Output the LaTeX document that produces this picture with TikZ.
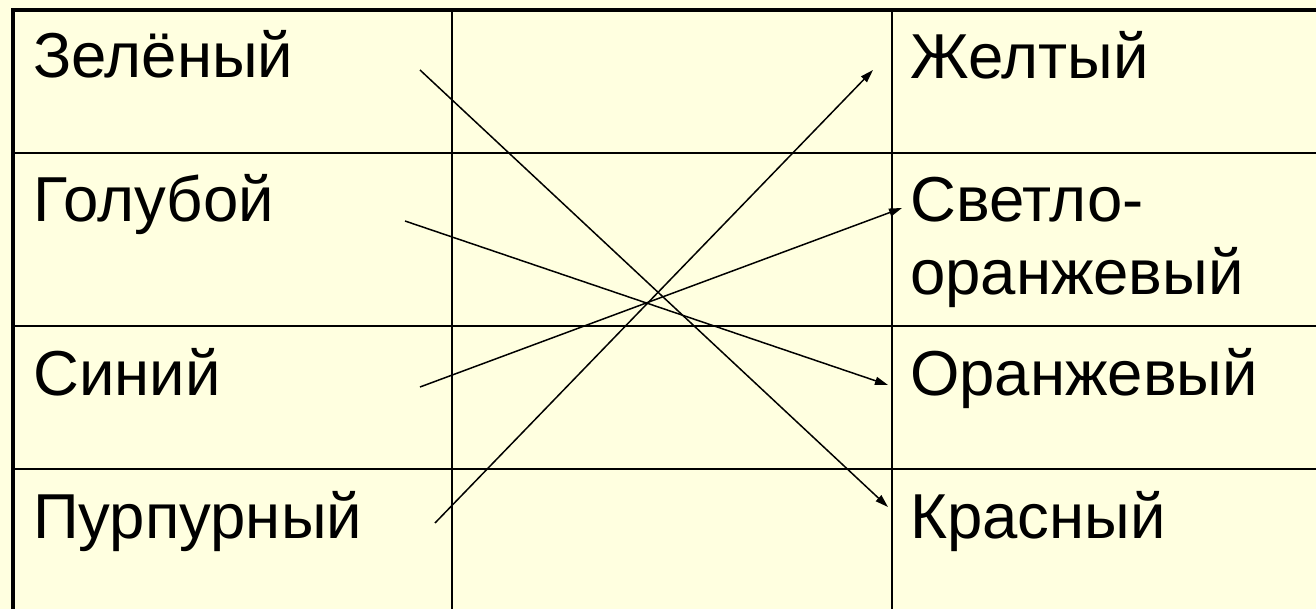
\documentclass[tikz,border=0pt]{standalone}
\usepackage{fontspec}
\setmainfont{Liberation Sans}
\usetikzlibrary{arrows.meta}
\definecolor{bg}{HTML}{FFFFE0}
\begin{document}
\begin{tikzpicture}[x=1pt,y=-1pt,
  cell/.style={anchor=base west,inner sep=0pt,font=\fontsize{63.5}{74}\selectfont},
  outer/.style={line width=4pt},
  inner/.style={line width=2.2pt},
  conn/.style={line width=1.5pt,-{Triangle[length=13pt,width=8pt]}}]
\fill[bg] (0,0) rectangle (1316,609);
\useasboundingbox (0,0) rectangle (1316,609);
% grid
\draw[inner] (12,153) -- (1330,153);
\draw[inner] (12,326) -- (1330,326);
\draw[inner] (12,469) -- (1330,469);
\draw[inner] (452,10) -- (452,620);
\draw[inner] (892,10) -- (892,620);
\draw[outer] (12.5,620) -- (12.5,10) -- (1330,10);
% texts
\node[cell] (z) at (33,78) {Зелёный};
\node[cell] (g) at (33,222) {Голубой};
\node[cell] (s) at (33,395) {Синий};
\node[cell] (p) at (33,538) {Пурпурный};
\node[cell] (zh) at (910,79) {Желтый};
\node[cell] (so1) at (910,222) {Светло-};
\node[cell] (so2) at (910,295) {оранжевый};
\node[cell] (o) at (910,395) {Оранжевый};
\node[cell] (k) at (910,538) {Красный};
% connector ends
\coordinate (zA) at (420,70);
\coordinate (gA) at (405,221);
\coordinate (sA) at (420,387);
\coordinate (pA) at (435,523);
\coordinate (zhB) at (873,70);
\coordinate (soB) at (902,208);
\coordinate (oB) at (888,385);
\coordinate (kB) at (888,507);
\draw[conn] (zA) -- (kB);
\draw[conn] (gA) -- (oB);
\draw[conn] (sA) -- (soB);
\draw[conn] (pA) -- (zhB);
\end{tikzpicture}
\end{document}
